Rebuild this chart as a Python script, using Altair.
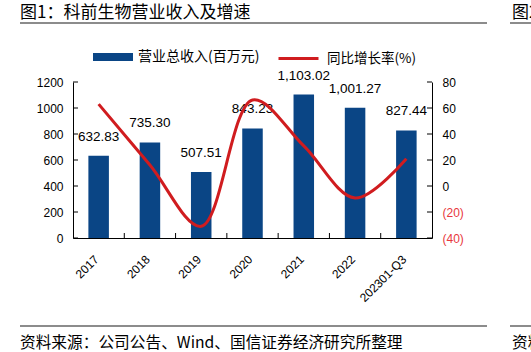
import altair as alt
import pandas as pd

categories = ['2017', '2018', '2019', '2020', '2021', '2022', '202301-Q3']
revenue = [632.83, 735.30, 507.51, 843.23, 1103.02, 1001.27, 827.44]
growth = [63.0, 16.2, -31.0, 66.2, 30.8, -9.2, 21.0]
left_ticks = [0, 200, 400, 600, 800, 1000, 1200]
right_ticks = [-40, -20, 0, 20, 40, 60, 80]
bar_series = '营业总收入(百万元)'
line_series = '同比增长率(%)'
title_text = '图1：科前生物营业收入及增速'
source_text = '资料来源：公司公告、Wind、国信证券经济研究所整理'
next_title = '图2'
next_source = '资料'

BLUE = '#0a4585'
RED = '#d01c1f'
NEG = '#e8383d'
CJK = 'Noto Sans CJK SC'
LAT = 'Liberation Sans'
W, H = 359, 156

df = pd.DataFrame({'cat': categories, 'rev': revenue, 'g': growth,
                   'sb': [bar_series] * len(categories),
                   'sl': [line_series] * len(categories)})
lt = pd.DataFrame({'rev': left_ticks})
rt = pd.DataFrame({'g': right_ticks})
xt = pd.DataFrame({'cat': categories[1:]})
one = pd.DataFrame({'a': [1]})

xscale = alt.Scale(domain=categories, paddingInner=0, paddingOuter=0)
lscale = alt.Scale(domain=[0, 1200], nice=False)
rscale = alt.Scale(domain=[-40, 80], nice=False)

xaxis = alt.Axis(title=None, labelAngle=-45, labelAlign='right', labelBaseline='middle',
                 ticks=False, labelPadding=19, labelOffset=-2, domainColor='black',
                 labelFontSize=12, labelFont=LAT, labelColor='black', grid=False)
laxis = alt.Axis(title=None, values=left_ticks, ticks=False, labelPadding=10, format='d',
                 domainColor='black', labelFontSize=12, labelFont=LAT,
                 labelColor='black', grid=False)
raxis = alt.Axis(orient='right', title=None, values=right_ticks, ticks=False,
                 labelPadding=10, domainColor='black', labelFontSize=12,
                 labelFont=LAT, grid=False,
                 labelExpr="datum.value < 0 ? '(' + abs(datum.value) + ')' : datum.value",
                 labelColor={"condition": {"test": "datum.value < 0", "value": NEG},
                             "value": "black"})

X = alt.X('cat:N', scale=xscale, sort=categories, axis=xaxis)
YL = alt.Y('rev:Q', scale=lscale, axis=laxis)
YR = alt.Y('g:Q', scale=rscale, axis=raxis)

bars = alt.Chart(df).mark_bar(width=alt.RelativeBandSize(0.4)).encode(
    x=X, y=YL,
    color=alt.Color('sb:N', scale=alt.Scale(domain=[bar_series], range=[BLUE]),
                    legend=alt.Legend(orient='none', legendX=20, legendY=-45, title=None,
                                      symbolType='M-1,-0.2H1V0.2H-1Z', symbolSize=1600,
                                      symbolStrokeWidth=0, labelOffset=5, padding=0,
                                      labelFont=CJK, labelFontSize=14, labelColor='black'))
)

labels = alt.Chart(df).mark_text(baseline='bottom', dy=-12, font=LAT, fontSize=13.5,
                                 color='black').encode(
    x=X, y=YL, text=alt.Text('rev:Q', format=',.2f')
)

lticks = alt.Chart(lt).mark_rule(color='black', strokeWidth=1).encode(
    y=YL, x=alt.value(0), x2=alt.value(5)
)

xticks = alt.Chart(xt).mark_rule(color='black', strokeWidth=1).encode(
    x=alt.X('cat:N', scale=xscale, sort=categories, bandPosition=0, axis=xaxis),
    y=alt.value(H - 5), y2=alt.value(H)
)

left = alt.layer(bars, labels, lticks, xticks)

line = alt.Chart(df).mark_line(interpolate='catmull-rom', strokeWidth=3).encode(
    x=X, y=YR,
    stroke=alt.Stroke('sl:N', scale=alt.Scale(domain=[line_series], range=[RED]),
                      legend=alt.Legend(orient='none', legendX=204, legendY=-45, title=None,
                                        symbolType='stroke', symbolSize=1600,
                                        symbolStrokeWidth=3, labelOffset=7, padding=0,
                                        labelFont=CJK, labelFontSize=13.5, labelColor='black'))
)

rticks = alt.Chart(rt).mark_rule(color='black', strokeWidth=1).encode(
    y=YR, x=alt.value(W - 5), x2=alt.value(W)
)

right = alt.layer(line, rticks)

def txt(s, x, y, size):
    return alt.Chart(pd.DataFrame({'t': [s]})).mark_text(
        align='left', baseline='middle', font=CJK, fontSize=size, color='black'
    ).encode(text='t:N', x=alt.value(x), y=alt.value(y))

def hrule(x1, x2, y):
    return alt.Chart(one).mark_rule(color='#8c8c8c', strokeWidth=2).encode(
        x=alt.value(x1), x2=alt.value(x2), y=alt.value(y))

deco = alt.layer(
    txt(title_text, -53, -69, 17),
    txt(next_title, 439, -69, 17),
    hrule(-53, 414, -59),
    hrule(437, 470, -59),
    hrule(-53, 414, 244),
    hrule(437, 470, 244),
    txt(source_text, -53, 261, 15.7),
    txt(next_source, 439, 261, 15.7),
)

chart = alt.layer(left, right, deco).resolve_scale(
    y='independent', color='independent', stroke='independent'
).properties(
    width=W, height=H,
    autosize=alt.AutoSizeParams(type='none'),
    padding={'left': 73, 'top': 82, 'right': 99, 'bottom': 114},
    background='white'
).configure_view(stroke=None)

chart.save("out.html", embed_options={"renderer": "svg", "actions": False})
